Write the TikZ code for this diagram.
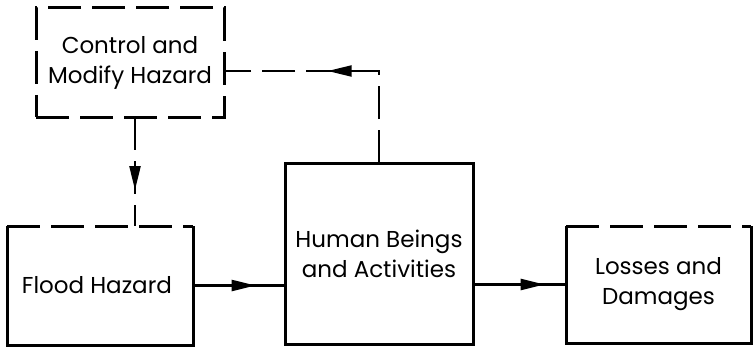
\documentclass[tikz,border=0pt]{standalone}
\usepackage{fontspec}
\setmainfont{Poppins}
\usetikzlibrary{positioning, arrows.meta, decorations.markings}

\tikzset{arrowat/.style={postaction={decorate}, decoration={markings,
	mark=at position #1 with {\arrow{Triangle[length=24pt, width=11pt]}}}}}

\begin{document}
\begin{tikzpicture}[x=1pt, y=1pt]
		\tikzstyle{block}=[rectangle, align=center, inner sep=0pt, outer sep=0pt,
			font=\fontsize{23}{30}\selectfont]
		\tikzstyle{outline}=[line width=3pt]
		\tikzstyle{broken}=[dash pattern=on 33pt off 11pt]
		\tikzstyle{link}=[line width=2.4pt]

		\useasboundingbox (0,0) rectangle (754,346);

		\node[block, minimum width=186pt, minimum height=119pt] (flood) at (100,60.5) {
			Flood Hazard
		};

		\node[block, outline, draw, minimum width=188pt, minimum height=181pt,
		right=92pt of flood, yshift=32pt] (human) {
			Human Beings\\and Activities
		};

		\node[block, minimum width=185pt, minimum height=117pt,
		right=93pt of human, yshift=-31pt] (losses) {
			Losses and\\Damages
		};

		\node[block, outline, broken, draw, minimum width=188pt, minimum height=109pt,
		above=109pt of flood, xshift=30pt] (control) {
			Control and\\Modify Hazard
		};

		% open top edges are dashed
		\draw[outline] (flood.north west) -- (flood.south west) -- (flood.south east) -- (flood.north east);
		\draw[outline, broken] (flood.north west) -- (flood.north east);
		\draw[outline] (losses.north west) -- (losses.south west) -- (losses.south east) -- (losses.north east);
		\draw[outline, broken] (losses.north west) -- (losses.north east);

		\draw[link, arrowat=0.68] (flood.east) -- (flood.east -| human.west);
		\draw[link, arrowat=0.77] (losses.west -| human.east) -- (losses.west);
		\draw[link, broken, arrowat=0.67] ([xshift=5pt]control.south) -- ([xshift=35pt]flood.north);
		\draw[link, broken, arrowat=0.58] (human.north) |- ([yshift=-8.5pt]control.east);

	\end{tikzpicture}
\end{document}
